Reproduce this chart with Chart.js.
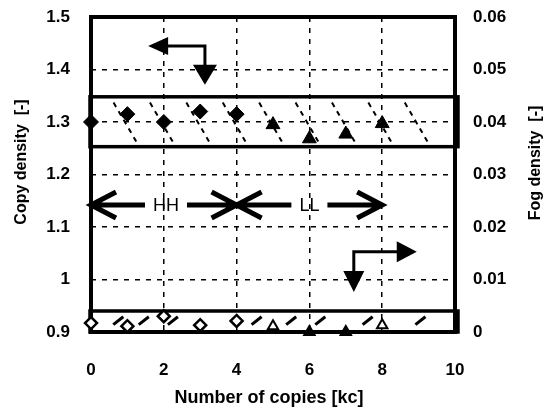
<!DOCTYPE html>
<html>
<head>
<meta charset="utf-8">
<script src="https://cdn.jsdelivr.net/npm/chart.js@4.4.0/dist/chart.umd.min.js"></script>
<style>
  html, body { margin: 0; padding: 0; background: #fff; }
</style>
</head>
<body>
<canvas id="myChart" width="544" height="410"></canvas>
<script>
// number of copies [kc]
var copiesHH = [0, 1, 2, 3, 4];
var copiesLL = [5, 6, 7, 8];

// copy density [-] (left axis)
var copyDensityHH = [1.30, 1.315, 1.30, 1.32, 1.315];
var copyDensityLL = [1.295, 1.268, 1.277, 1.297];

// fog density [-] (right axis)
var fogDensityHH = [0.0017, 0.0011, 0.003, 0.0013, 0.0021];
var fogDensityLL = [0.0011, 0, 0, 0.0013];

// tick labels
var xTickLabels = ['0', '2', '4', '6', '8', '10'];
var copyTickLabels = ['0.9', '1', '1.1', '1.2', '1.3', '1.4', '1.5'];
var fogTickLabels = ['0', '0.01', '0.02', '0.03', '0.04', '0.05', '0.06'];

// titles / notes
var xTitle = 'Number of copies [kc]';
var copyTitle = 'Copy density  [-]';
var fogTitle = 'Fog density  [-]';
var modeLabels = ['HH', 'LL'];
var modeRanges = [[0, 4], [4, 8]];

var FONT = '"Liberation Sans", Arial, sans-serif';
Chart.defaults.font.family = FONT;
Chart.defaults.color = '#000';

function toPoints(xs, ys) {
    return xs.map(function(x, i) { return { x: x, y: ys[i] }; });
}
function tickLabels(arr) {
    return function(value, index) { return arr[index]; };
}
function fixedTicks(arr) {
    return function(scale) {
        scale.ticks = arr.map(function(t) { return { value: parseFloat(t) }; });
    };
}
function fixWidth(w) {
    return function(s) {
        s.width = w;
        s.paddingTop = 0;
        s.paddingBottom = 0;
    };
}
function innerGrid(ctx) {
    var s = ctx.scale;
    if (ctx.tick && (ctx.tick.value === s.min || ctx.tick.value === s.max)) return 'rgba(0,0,0,0)';
    return '#000';
}

// lines, boxes and arrows on top of the grid
var decor = {
    id: 'decor',
    beforeDatasetsDraw: function(chart) {
        var c = chart.ctx, a = chart.chartArea;
        var sx = chart.scales.x, sy = chart.scales.y, sf = chart.scales.y1;
        var px = function(v) { return sx.getPixelForValue(v); };
        var py = function(v) { return sy.getPixelForValue(v); };
        var pf = function(v) { return sf.getPixelForValue(v); };
        c.save();
        c.strokeStyle = '#000';
        c.fillStyle = '#000';
        c.setLineDash([]);

        // upper band
        c.lineWidth = 3.5;
        c.strokeRect(a.left - 1, py(1.348), a.right + 4 - a.left, py(1.253) - py(1.348));
        // lower band
        c.strokeRect(a.left - 1, pf(0.004), a.right + 4 - a.left, a.bottom - pf(0.004));

        // dashed hatch in upper band
        c.lineWidth = 2;
        c.setLineDash([5, 5]);
        for (var i = 1; i <= 9; i++) {
            c.beginPath();
            c.moveTo(px(i - 0.38), py(1.337));
            c.lineTo(px(i + 0.25), py(1.262));
            c.stroke();
        }
        c.setLineDash([]);

        // slashes in lower band
        c.lineWidth = 3;
        [0.75, 1.45, 2.25, 4.55, 5.5, 6.3, 7.6, 9.05].forEach(function(v) {
            c.beginPath();
            c.moveTo(px(v) - 5, pf(0.0014));
            c.lineTo(px(v) + 5, pf(0.0029));
            c.stroke();
        });

        // frame
        c.lineWidth = 4;
        c.strokeRect(a.left, a.top, a.right - a.left, a.bottom - a.top);

        // HH / LL arrows
        c.lineWidth = 5;
        c.font = '18px ' + FONT;
        c.textAlign = 'center';
        c.textBaseline = 'middle';
        var yArr = py(1.142);
        modeRanges.forEach(function(r, k) {
            var x0 = px(r[0]), x1 = px(r[1]);
            var xm = k === 0 ? px(2.06) : px(6.0);
            var hw = c.measureText(modeLabels[k]).width / 2 + 8;
            c.beginPath();
            c.moveTo(x0, yArr); c.lineTo(xm - hw, yArr);
            c.moveTo(xm + hw, yArr); c.lineTo(x1, yArr);
            // open heads
            c.moveTo(x0 + 25, yArr - 13); c.lineTo(x0, yArr); c.lineTo(x0 + 25, yArr + 13);
            c.moveTo(x1 - 25, yArr - 13); c.lineTo(x1, yArr); c.lineTo(x1 - 25, yArr + 13);
            c.stroke();
            c.fillText(modeLabels[k], xm, yArr + 1);
        });

        // arrow pointing to left axis
        c.lineWidth = 3;
        var ax = px(1.57), cx = px(3.13), ay = py(1.445), dy = py(1.371);
        c.beginPath();
        c.moveTo(ax + 18, ay); c.lineTo(cx, ay); c.lineTo(cx, dy - 19);
        c.stroke();
        c.beginPath();
        c.moveTo(ax, ay); c.lineTo(ax + 20, ay - 9); c.lineTo(ax + 20, ay + 9); c.closePath();
        c.fill();
        c.beginPath();
        c.moveTo(cx, dy); c.lineTo(cx - 12, dy - 20); c.lineTo(cx + 12, dy - 20); c.closePath();
        c.fill();

        // arrow pointing to right axis
        var bx = px(7.22), tx = px(8.95), by = py(1.053), ty = py(0.976);
        c.beginPath();
        c.moveTo(bx, ty - 20); c.lineTo(bx, by); c.lineTo(tx - 19, by);
        c.stroke();
        c.beginPath();
        c.moveTo(tx, by); c.lineTo(tx - 20, by - 10.5); c.lineTo(tx - 20, by + 10.5); c.closePath();
        c.fill();
        c.beginPath();
        c.moveTo(bx, ty); c.lineTo(bx - 10.5, ty - 21); c.lineTo(bx + 10.5, ty - 21); c.closePath();
        c.fill();

        c.restore();
    },
    afterDraw: function(chart) {
        var c = chart.ctx;
        c.save();
        c.fillStyle = '#000';
        c.textAlign = 'center';
        c.textBaseline = 'middle';
        c.font = 'bold 18px ' + FONT;
        c.fillText(xTitle, 269, 398);

        c.font = 'bold 16px ' + FONT;
        c.translate(22, 162);
        c.rotate(-Math.PI / 2);
        c.fillText(copyTitle, 0, 0);
        c.restore();

        c.save();
        c.fillStyle = '#000';
        c.textAlign = 'center';
        c.textBaseline = 'middle';
        c.font = 'bold 16px ' + FONT;
        c.translate(536, 163);
        c.rotate(-Math.PI / 2);
        c.fillText(fogTitle, 0, 0);
        c.restore();
    }
};

var ctx = document.getElementById('myChart').getContext('2d');
var chart = new Chart(ctx, {
    type: 'scatter',
    data: {
        datasets: [
            {
                label: 'Copy density HH',
                data: toPoints(copiesHH, copyDensityHH),
                yAxisID: 'y',
                pointStyle: 'rectRot',
                pointRadius: 7.5,
                backgroundColor: '#000',
                borderColor: '#000',
                borderWidth: 1,
                clip: false
            },
            {
                label: 'Copy density LL',
                data: toPoints(copiesLL, copyDensityLL),
                yAxisID: 'y',
                pointStyle: 'triangle',
                pointRadius: 8,
                backgroundColor: '#000',
                borderColor: '#000',
                borderWidth: 1,
                clip: false
            },
            {
                label: 'Fog density HH',
                data: toPoints(copiesHH, fogDensityHH),
                yAxisID: 'y1',
                pointStyle: 'rectRot',
                pointRadius: 6,
                backgroundColor: '#fff',
                borderColor: '#000',
                borderWidth: 2.5,
                clip: false
            },
            {
                label: 'Fog density LL',
                data: toPoints(copiesLL, fogDensityLL),
                yAxisID: 'y1',
                pointStyle: 'triangle',
                pointRadius: 6,
                backgroundColor: ['#fff', '#000', '#000', '#fff'],
                borderColor: '#000',
                borderWidth: 2,
                clip: false
            }
        ]
    },
    options: {
        responsive: false,
        animation: false,
        layout: { padding: { top: 17, left: 0, right: 0, bottom: 0 } },
        plugins: {
            legend: { display: false },
            tooltip: { enabled: false }
        },
        scales: {
            x: {
                type: 'linear',
                min: 0,
                max: 10,
                afterBuildTicks: fixedTicks(xTickLabels),
                afterFit: function(s) { s.height = 78; s.paddingLeft = 0; s.paddingRight = 0; },
                ticks: { callback: tickLabels(xTickLabels), font: { size: 17, weight: 'bold' }, padding: 28, maxRotation: 0 },
                grid: { color: innerGrid, lineWidth: 1.5, drawTicks: false },
                border: { display: false, dash: [5, 6] }
            },
            y: {
                position: 'left',
                min: 0.9,
                max: 1.5,
                afterBuildTicks: fixedTicks(copyTickLabels),
                afterFit: fixWidth(91),
                ticks: { callback: tickLabels(copyTickLabels), font: { size: 17, weight: 'bold' }, padding: 21 },
                grid: { color: innerGrid, lineWidth: 1.5, drawTicks: false },
                border: { display: false, dash: [5, 6] }
            },
            y1: {
                position: 'right',
                min: 0,
                max: 0.06,
                afterBuildTicks: fixedTicks(fogTickLabels),
                afterFit: fixWidth(89),
                ticks: { callback: tickLabels(fogTickLabels), font: { size: 17, weight: 'bold' }, padding: 18 },
                grid: { display: false, drawTicks: false },
                border: { display: false }
            }
        }
    },
    plugins: [decor]
});
</script>
</body>
</html>
